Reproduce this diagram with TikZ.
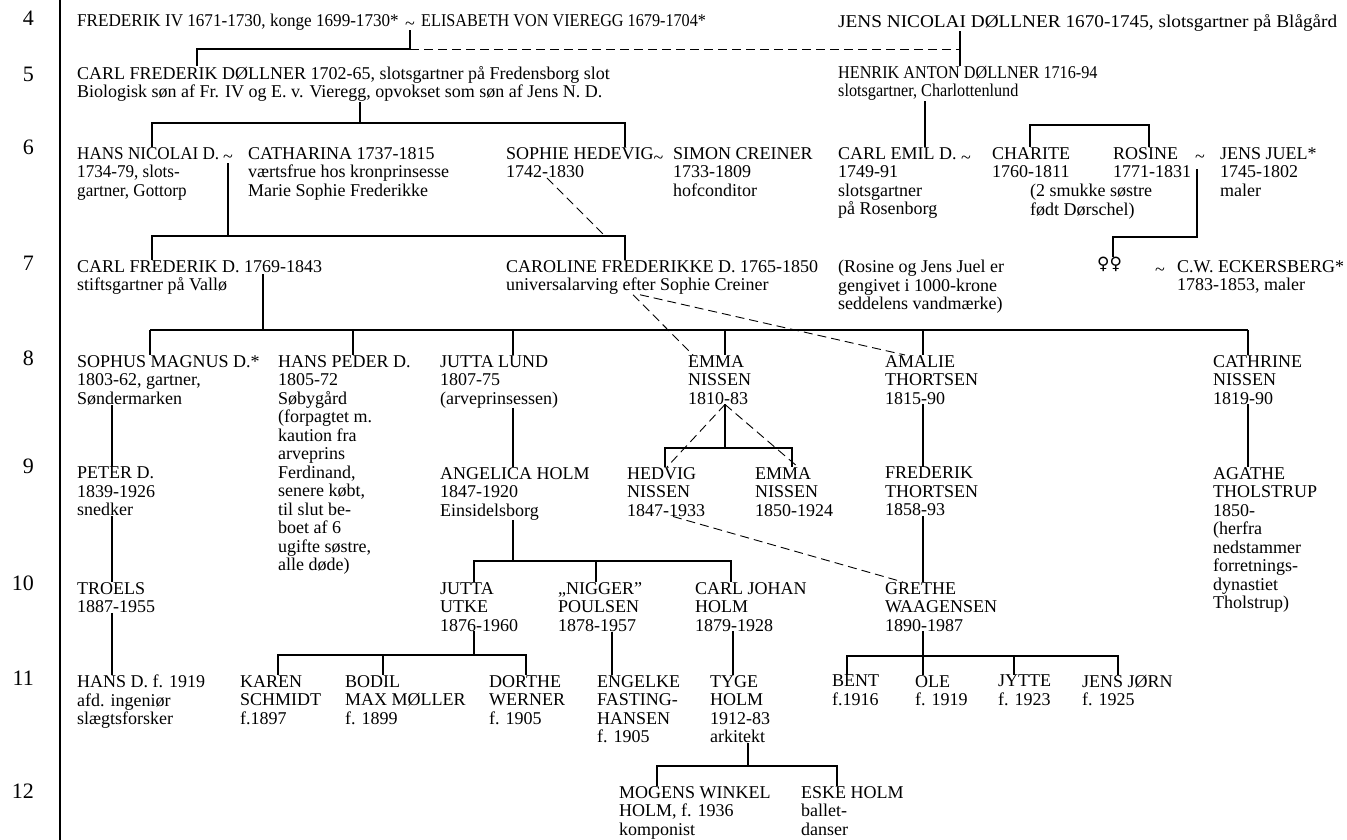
\documentclass[tikz,border=0pt]{standalone}
\usepackage{fontspec}
\setmainfont{Liberation Serif}
\newfontfamily\narrowfont[FakeStretch=0.9]{Liberation Serif}
\newfontfamily\slimfont[FakeStretch=0.95]{Liberation Serif}
\newfontfamily\widefont[FakeStretch=1.07]{Liberation Serif}
\newfontfamily\symfont{DejaVu Sans}
\newcommand\gift{\raisebox{-.22em}{\textasciitilde}}

\begin{document}
\begin{tikzpicture}[x=1pt,y=-1pt,
    every node/.style={anchor=north west,inner sep=0pt,align=left,
      font=\fontsize{18}{18.5}\selectfont},
    narrow/.style={font=\narrowfont\fontsize{18}{18.5}\selectfont},
    slim/.style={font=\slimfont\fontsize{18}{18.5}\selectfont},
    wide/.style={font=\widefont\fontsize{18}{18.5}\selectfont},
    gen/.style={anchor=base east,font=\fontsize{22}{22}\selectfont},
    tilde/.style={anchor=base},
    line/.style={line width=1.8pt},
    link/.style={line width=.9pt,dash pattern=on 9pt off 5pt}]
  \useasboundingbox (0,0) rectangle (1347,840);
  \draw[line width=2.2pt] (60,0) -- (60,840);

  % generations
  \foreach \g/\y in {4/26,5/82,6/154,7/270,8/365,9/473,10/590,11/685,12/798}
    \node[gen] (gen\g) at (34,\y) {\g};

  % 4
  \node[slim] (frederik) at (77,14) {FREDERIK IV 1671-1730, konge 1699-1730*};
  \node[tilde] (t4) at (410,25.9) {\gift};
  \node[narrow] (elisabeth) at (421,14) {ELISABETH VON VIEREGG 1679-1704*};
  \node[wide] (jensnic) at (838,14) {JENS NICOLAI DØLLNER 1670-1745, slotsgartner på Blågård};

  % 5
  \node (carlfred) at (77,66) {CARL FREDERIK DØLLNER 1702-65, slotsgartner på Fredensborg slot\\
    Biologisk søn af Fr. IV og E. v. Vieregg, opvokset som søn af Jens N. D.};
  \node[narrow] (henrik) at (838,66) {HENRIK ANTON DØLLNER 1716-94\\slotsgartner, Charlottenlund};

  % 6
  \node[slim] (hansnic) at (77,147) {HANS NICOLAI D.\\1734-79, slots-\\gartner, Gottorp};
  \node[tilde] (t6a) at (228,158.9) {\gift};
  \node (catharina) at (248,147) {CATHARINA 1737-1815\\værtsfrue hos kronprinsesse\\Marie Sophie Frederikke};
  \node (sophie) at (506,147) {SOPHIE HEDEVIG\gift\\1742-1830};
  \node (simon) at (673,147) {SIMON CREINER\\1733-1809\\hofconditor};
  \node (carlemil) at (838,147) {CARL EMIL D. \gift\\1749-91\\slotsgartner\\på Rosenborg};
  \node (charite) at (992,147) {CHARITE\\1760-1811};
  \node (sostre) at (1030,184) {(2 smukke søstre\\født Dørschel)};
  \node (rosine) at (1113,147) {ROSINE\\1771-1831};
  \node[tilde] (t6b) at (1200,158.9) {\gift};
  \node (juel) at (1220,147) {JENS JUEL*\\1745-1802\\maler};

  % 7
  \node (carlfd) at (77,260) {CARL FREDERIK D. 1769-1843\\stiftsgartner på Vallø};
  \node (caroline) at (506,260) {CAROLINE FREDERIKKE D. 1765-1850\\universalarving efter Sophie Creiner};
  \node (seddel) at (838,260) {(Rosine og Jens Juel er\\gengivet i 1000-krone\\seddelens vandmærke)};
  \node (venus) at (1097,257) {\symfont\fontsize{17}{17}\selectfont ♀♀};
  \node[tilde] (t7) at (1160,271.9) {\gift};
  \node (eckersberg) at (1177,260) {C.W. ECKERSBERG*\\1783-1853, maler};

  % 8
  \node (sophus) at (77,355) {SOPHUS MAGNUS D.*\\1803-62, gartner,\\Søndermarken};
  \node (hanspeder) at (278,355) {HANS PEDER D.\\1805-72\\Søbygård\\(forpagtet m.\\kaution fra\\arveprins\\Ferdinand,\\senere købt,\\til slut be-\\boet af 6\\ugifte søstre,\\alle døde)};
  \node (juttalund) at (440,355) {JUTTA LUND\\1807-75\\(arveprinsessen)};
  \node (emma) at (688,355) {EMMA\\NISSEN\\1810-83};
  \node (amalie) at (885,355) {AMALIE\\THORTSEN\\1815-90};
  \node (cathrine) at (1213,355) {CATHRINE\\NISSEN\\1819-90};

  % 9
  \node (peter) at (77,467) {PETER D.\\1839-1926\\snedker};
  \node (angelica) at (440,467) {ANGELICA HOLM\\1847-1920\\Einsidelsborg};
  \node (hedvig) at (627,467) {HEDVIG\\NISSEN\\1847-1933};
  \node (emma2) at (755,467) {EMMA\\NISSEN\\1850-1924};
  \node (frederikt) at (885,467) {FREDERIK\\THORTSEN\\1858-93};
  \node (agathe) at (1213,467) {AGATHE\\THOLSTRUP\\1850-\\(herfra\\nedstammer\\forretnings-\\dynastiet\\Tholstrup)};

  % 10
  \node (troels) at (77,582) {TROELS\\1887-1955};
  \node (juttautke) at (440,582) {JUTTA\\UTKE\\1876-1960};
  \node (nigger) at (558,582) {„NIGGER”\\POULSEN\\1878-1957};
  \node (carljohan) at (695,582) {CARL JOHAN\\HOLM\\1879-1928};
  \node (grethe) at (885,582) {GRETHE\\WAAGENSEN\\1890-1987};

  % 11
  \node (hansd) at (77,675) {HANS D. f. 1919\\afd. ingeniør\\slægtsforsker};
  \node (karen) at (240,675) {KAREN\\SCHMIDT\\f.1897};
  \node (bodil) at (345,675) {BODIL\\MAX MØLLER\\f. 1899};
  \node (dorthe) at (489,675) {DORTHE\\WERNER\\f. 1905};
  \node (engelke) at (597,675) {ENGELKE\\FASTING-\\HANSEN\\f. 1905};
  \node (tyge) at (710,675) {TYGE\\HOLM\\1912-83\\arkitekt};
  \node (bent) at (832,675) {BENT\\f.1916};
  \node (ole) at (915,675) {OLE\\f. 1919};
  \node (jytte) at (998,675) {JYTTE\\f. 1923};
  \node (jensjorn) at (1082,675) {JENS JØRN\\f. 1925};

  % 12
  \node (mogens) at (619,786) {MOGENS WINKEL\\HOLM, f. 1936\\komponist};
  \node (eske) at (801,786) {ESKE HOLM\\ballet-\\danser};

  % 4 -> 5
  \draw[line] (t4.south) -- (410,49) -| (carlfred.north -| 197,0);
  \draw[link] (410,49) -- (960,49);
  \draw[line] (jensnic.south -| 960,0) -- (henrik.north -| 960,0);

  % 5 -> 6
  \draw[line] (carlfred.south -| 360,0) -- (360,123);
  \draw[line] (hansnic.north -| 152,0) |- (360,123) -| (sophie.north -| 625,0);
  \draw[line] (henrik.south -| 925,0) -- (carlemil.north -| 925,0);
  \draw[line] (charite.north -| 1030,0) |- (1149,125) -- (rosine.north -| 1149,0);

  % 6 -> 7
  \draw[line] (t6a.south) -- (228,236);
  \draw[line] (carlfd.north -| 152,0) |- (228,236) -| (caroline.north -| 625,0);
  \draw[link] (sophie.south -| 547,0) -- (603,234);
  \draw[line] (t6b.south) ++(-3,6) -- (1197,237) -| (venus.north -| 1113,0);

  % 7 -> 8
  \draw[line] (carlfd.north -| 263,0) ++(0,14) -- (263,330);
  \draw[line] (150,330) -- (1248,330);
  \foreach \n/\x in {sophus/150,hanspeder/353,juttalund/513,emma/725,amalie/923,cathrine/1248}
    \draw[line] (\x,330) -- (\n.north -| \x,0);
  \draw[link] (caroline.south -| 633,0) -- ([xshift=5pt]emma.north west);
  \draw[link] (caroline.south -| 640,0) -- ([xshift=20pt]amalie.north west);

  % 8 -> 9
  \draw[line] (sophus.south -| 112,0) -- (peter.north -| 112,0);
  \draw[line] (juttalund.south -| 513,0) -- (angelica.north -| 513,0);
  \draw[line] (emma.south -| 725,0) -- (725,448);
  \draw[line] (hedvig.north -| 665,0) |- (725,448) -| (emma2.north -| 792,0);
  \draw[link] (emma.south -| 725,0) -- (hedvig.north -| 667,0);
  \draw[link] (emma.south -| 725,0) -- ([xshift=43pt]emma2.north west);
  \draw[line] (amalie.south -| 923,0) -- (frederikt.north -| 923,0);
  \draw[line] (cathrine.south -| 1248,0) -- (agathe.north -| 1248,0);

  % 9 -> 10
  \draw[line] (peter.south -| 112,0) -- (troels.north -| 112,0);
  \draw[line] (angelica.south -| 513,0) -- (513,561);
  \draw[line] (juttautke.north -| 474,0) |- (731,561) -- (carljohan.north -| 731,0);
  \draw[line] (596,561) -- (nigger.north -| 596,0);
  \draw[link] (hedvig.south -| 673,0) -- (grethe.north -| 903,0);
  \draw[line] (frederikt.south -| 923,0) -- (grethe.north -| 923,0);

  % 10 -> 11
  \draw[line] (troels.south -| 112,0) -- (hansd.north -| 112,0);
  \draw[line] (juttautke.south -| 474,0) -- (474,655);
  \draw[line] (karen.north -| 278,0) |- (526,655) -- (dorthe.north -| 526,0);
  \draw[line] (383,655) -- (bodil.north -| 383,0);
  \draw[line] (nigger.south -| 612,0) -- (engelke.north -| 612,0);
  \draw[line] (carljohan.south -| 733,0) -- (tyge.north -| 733,0);
  \draw[line] (grethe.south -| 923,0) -- (923,656);
  \draw[line] (bent.north -| 847,0) |- (1118,656) -- (jensjorn.north -| 1118,0);
  \foreach \n/\x in {ole/923,jytte/1014}
    \draw[line] (\x,656) -- (\n.north -| \x,0);

  % 11 -> 12
  \draw[line] (tyge.south -| 748,0) -- (748,766);
  \draw[line] (mogens.north -| 657,0) |- (837,766) -- (eske.north -| 837,0);
\end{tikzpicture}
\end{document}
